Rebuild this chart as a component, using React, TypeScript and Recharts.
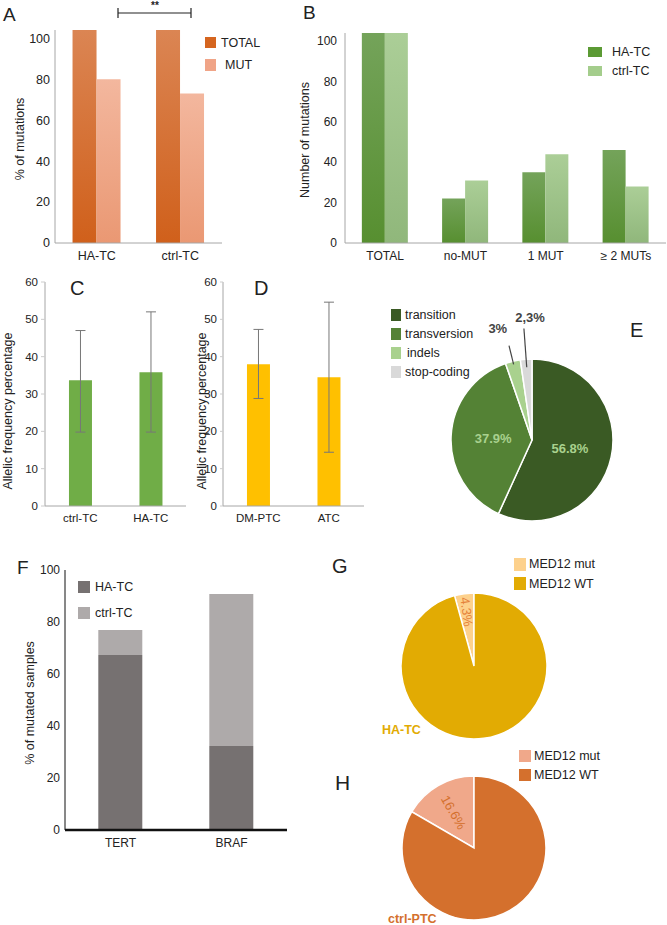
import React from "react";
import { BarChart, Bar, XAxis, YAxis, PieChart, Pie, Cell, ErrorBar } from "recharts";

// A - % of mutations
const aGroups = ["HA-TC", "ctrl-TC"];
const aTotal = [104, 104];
const aMut = [80, 73];

// B - number of mutations
const bGroups = ["TOTAL", "no-MUT", "1 MUT", "≥ 2 MUTs"];
const bHA = [104, 22, 35, 46];
const bCtrl = [104, 31, 44, 28];
const abTicks = [0, 20, 40, 60, 80, 100];

// C / D - allelic frequency (mean, lower, upper)
const cGroups = ["ctrl-TC", "HA-TC"];
const cMean = [33.7, 35.8];
const cLow = [19.8, 19.8];
const cHigh = [47, 52];
const dGroups = ["DM-PTC", "ATC"];
const dMean = [38, 34.5];
const dLow = [28.8, 14.4];
const dHigh = [47.3, 54.6];
const cdTicks = [0, 10, 20, 30, 40, 50, 60];

// E - mutation types
const eTypes = ["transition", "transversion", "indels", "stop-coding"];
const eShare = [56.8, 37.9, 3, 2.3];
const eLabels = ["56.8%", "37.9%", "3%", "2,3%"];

// F - mutated samples
const fGenes = ["TERT", "BRAF"];
const fHA = [67.3, 32.3];
const fCtrl = [9.6, 58.5];
const fTicks = [0, 20, 40, 60, 80, 100];

// G / H - MED12
const medKinds = ["MED12 mut", "MED12 WT"];
const gShare = [4.3, 95.7];
const hShare = [16.6, 83.4];

const eColors = ["#3a5a24", "#548235", "#a9d18e", "#d9d9d9"];
const gColors = ["#fdd18c", "#e2ab03"];
const hColors = ["#f0a88a", "#d4702d"];

const aData = aGroups.map((name, i) => ({ name, total: aTotal[i], mut: aMut[i] }));
const bData = bGroups.map((name, i) => ({ name, ha: bHA[i], ctrl: bCtrl[i] }));
const cData = cGroups.map((name, i) => ({ name, v: cMean[i], err: [cMean[i] - cLow[i], cHigh[i] - cMean[i]] }));
const dData = dGroups.map((name, i) => ({ name, v: dMean[i], err: [dMean[i] - dLow[i], dHigh[i] - dMean[i]] }));
const eData = eTypes.map((name, i) => ({ name, value: eShare[i] }));
const fData = fGenes.map((name, i) => ({ name, ha: fHA[i], ctrl: fCtrl[i] }));
const gData = medKinds.map((name, i) => ({ name, value: gShare[i] }));
const hData = medKinds.map((name, i) => ({ name, value: hShare[i] }));

const RAD = Math.PI / 180;
const polar = (cx: number, cy: number, r: number, a: number) => [cx + r * Math.cos(-a * RAD), cy + r * Math.sin(-a * RAD)];

const txt = "#222";
const grayAxis = "#a6a6a6";

type TP = {
  x: number;
  y: number;
  size?: number;
  color?: string;
  weight?: number;
  align?: "left" | "center" | "right";
  rotate?: number;
  children: React.ReactNode;
};

const T = ({ x, y, size = 12.5, color = txt, weight = 400, align = "left", rotate = 0, children }: TP) => {
  const tx = align === "left" ? "0" : align === "center" ? "-50%" : "-100%";
  return (
    <div
      style={{
        position: "absolute",
        left: x,
        top: y,
        fontSize: size,
        color,
        fontWeight: weight,
        whiteSpace: "nowrap",
        lineHeight: 1,
        transform: `translate(${tx},-50%) rotate(${rotate}deg)`,
      }}
    >
      {children}
    </div>
  );
};

const Sq = ({ x, y, w = 12, h = 12, color }: { x: number; y: number; w?: number; h?: number; color: string }) => (
  <div style={{ position: "absolute", left: x, top: y, width: w, height: h, background: color }} />
);

const Pos = ({ x, y, children }: { x: number; y: number; children: React.ReactNode }) => (
  <div style={{ position: "absolute", left: x, top: y }}>{children}</div>
);

const renderE = (p: any) => {
  const { cx, cy, midAngle, outerRadius, index } = p;
  if (index < 2) {
    const [x, y] = polar(cx, cy, outerRadius * 0.48, midAngle);
    return (
      <text x={x} y={y} fill="#a9d18e" fontSize={13} fontWeight={600} textAnchor="middle" dominantBaseline="central">
        {eLabels[index]}
      </text>
    );
  }
  const r1 = index === 2 ? 0.96 : 0.9;
  const r2 = index === 2 ? 1.2 : 1.38;
  const rt = index === 2 ? 1.42 : 1.52;
  const dx = index === 2 ? -7 : 7;
  const [x1, y1] = polar(cx, cy, outerRadius * r1, midAngle);
  const [x2, y2] = polar(cx, cy, outerRadius * r2, midAngle);
  const [x3, y3] = polar(cx, cy, outerRadius * rt, midAngle);
  return (
    <g>
      <line x1={x1} y1={y1} x2={x2} y2={y2} stroke="#444" strokeWidth={1.2} />
      <text x={x3 + dx} y={y3} fill="#444" fontSize={13} fontWeight={700} textAnchor="middle" dominantBaseline="central">
        {eLabels[index]}
      </text>
    </g>
  );
};

const medLabel = (rf: number, color: string, share: number[]) => (p: any) => {
  if (p.index !== 0) return <g />;
  const [x, y] = polar(p.cx, p.cy, p.outerRadius * rf, p.midAngle);
  return (
    <text
      x={x}
      y={y}
      fill={color}
      fontSize={13}
      textAnchor="middle"
      dominantBaseline="central"
      transform={`rotate(${180 - p.midAngle} ${x} ${y})`}
    >
      {`${share[0]}%`}
    </text>
  );
};

const tick = (size: number) => ({ fill: txt, fontSize: size });

export default function App() {
  return (
    <div
      style={{
        position: "absolute",
        left: 0,
        top: 0,
        width: 667,
        height: 925,
        background: "#fff",
        overflow: "hidden",
        fontFamily: "'Liberation Sans', Arial, Helvetica, sans-serif",
      }}
    >
      {/* A */}
      <Pos x={0} y={0}>
        <BarChart width={240} height={270} data={aData} margin={{ top: 30, right: 18, bottom: 0, left: 0 }} barCategoryGap="21%" barGap={0}>
          <defs>
            <linearGradient id="aTot" x1="0" y1="0" x2="0" y2="1">
              <stop offset="0%" stopColor="#db8553" />
              <stop offset="100%" stopColor="#d0601b" />
            </linearGradient>
            <linearGradient id="aMut" x1="0" y1="0" x2="0" y2="1">
              <stop offset="0%" stopColor="#f3b79e" />
              <stop offset="100%" stopColor="#ea9873" />
            </linearGradient>
          </defs>
          <XAxis dataKey="name" stroke={grayAxis} tickLine={false} tick={tick(12.5)} height={27} />
          <YAxis domain={[0, 104]} ticks={abTicks} width={55} stroke={grayAxis} tickLine={false} tickSize={3} tickMargin={2} tick={tick(12.5)} />
          <Bar dataKey="total" fill="url(#aTot)" isAnimationActive={false} />
          <Bar dataKey="mut" fill="url(#aMut)" isAnimationActive={false} />
        </BarChart>
      </Pos>
      <svg style={{ position: "absolute", left: 0, top: 0 }} width={240} height={30}>
        <line x1={118} y1={13} x2={191} y2={13} stroke="#222" strokeWidth={1.2} />
        <line x1={118} y1={8} x2={118} y2={18} stroke="#222" strokeWidth={1.2} />
        <line x1={191} y1={8} x2={191} y2={18} stroke="#222" strokeWidth={1.2} />
      </svg>
      <T x={155} y={6} size={10} weight={700} align="center">**</T>
      <T x={3} y={14} size={19}>A</T>
      <T x={20} y={139} align="center" rotate={-90}>% of mutations</T>
      <Sq x={205} y={37} w={11} h={11} color="#d5651f" />
      <T x={221} y={43}>TOTAL</T>
      <Sq x={205} y={59} w={11} h={12} color="#f0a487" />
      <T x={225} y={65}>MUT</T>

      {/* B */}
      <Pos x={290} y={0}>
        <BarChart width={377} height={270} data={bData} margin={{ top: 33, right: 1, bottom: 0, left: 0 }} barCategoryGap="21%" barGap={0}>
          <defs>
            <linearGradient id="bHa" x1="0" y1="0" x2="0" y2="1">
              <stop offset="0%" stopColor="#74a35a" />
              <stop offset="100%" stopColor="#578f30" />
            </linearGradient>
            <linearGradient id="bCt" x1="0" y1="0" x2="0" y2="1">
              <stop offset="0%" stopColor="#abce97" />
              <stop offset="100%" stopColor="#90b77b" />
            </linearGradient>
          </defs>
          <XAxis dataKey="name" stroke={grayAxis} tickLine={false} tick={tick(12)} height={27} />
          <YAxis domain={[0, 104]} ticks={abTicks} width={55} stroke={grayAxis} tickLine={false} tick={tick(12)} />
          <Bar dataKey="ha" fill="url(#bHa)" isAnimationActive={false} />
          <Bar dataKey="ctrl" fill="url(#bCt)" isAnimationActive={false} />
        </BarChart>
      </Pos>
      <T x={303} y={12} size={19}>B</T>
      <T x={305} y={140} align="center" rotate={-90}>Number of mutations</T>
      <Sq x={588} y={47} w={14} h={10} color="#5b9a34" />
      <T x={612} y={52}>HA-TC</T>
      <Sq x={588} y={66} w={14} h={10} color="#a4cd8c" />
      <T x={612} y={71}>ctrl-TC</T>

      {/* C */}
      <Pos x={0} y={260}>
        <BarChart width={186} height={270} data={cData} margin={{ top: 22, right: 0, bottom: 0, left: 0 }} barCategoryGap="34%">
          <XAxis dataKey="name" stroke={grayAxis} tickLine={false} tick={tick(11.5)} height={24} />
          <YAxis domain={[0, 60]} ticks={cdTicks} width={45} stroke={grayAxis} tickLine={{ stroke: "#ccc" }} tickSize={4} tickMargin={3} tick={tick(11.5)} />
          <Bar dataKey="v" fill="#70ad47" isAnimationActive={false}>
            <ErrorBar dataKey="err" width={5} stroke="#777" strokeWidth={1} direction="y" />
          </Bar>
        </BarChart>
      </Pos>
      <T x={70} y={288} size={20}>C</T>
      <T x={8} y={411} align="center" rotate={-90}>Allelic frequency percentage</T>

      {/* D */}
      <Pos x={180} y={260}>
        <BarChart width={184} height={270} data={dData} margin={{ top: 22, right: 0, bottom: 0, left: 0 }} barCategoryGap="34%">
          <XAxis dataKey="name" stroke={grayAxis} tickLine={false} tick={tick(11.5)} height={24} />
          <YAxis domain={[0, 60]} ticks={cdTicks} width={43} stroke={grayAxis} tickLine={{ stroke: "#ccc" }} tickSize={3} tickMargin={3} tick={tick(11.5)} />
          <Bar dataKey="v" fill="#ffc000" isAnimationActive={false}>
            <ErrorBar dataKey="err" width={5} stroke="#777" strokeWidth={1} direction="y" />
          </Bar>
        </BarChart>
      </Pos>
      <T x={254} y={288} size={20}>D</T>
      <T x={202} y={411} align="center" rotate={-90}>Allelic frequency percentage</T>

      {/* E */}
      <Pos x={360} y={260}>
        <PieChart width={307} height={270} margin={{ top: 0, right: 0, bottom: 0, left: 0 }}>
          <Pie
            data={eData}
            dataKey="value"
            cx={172}
            cy={180}
            outerRadius={81}
            startAngle={90}
            endAngle={-270}
            stroke="#fff"
            strokeWidth={1.5}
            label={renderE}
            labelLine={false}
            isAnimationActive={false}
          >
            {eData.map((d, i) => (
              <Cell key={d.name} fill={eColors[i]} />
            ))}
          </Pie>
        </PieChart>
      </Pos>
      <T x={630} y={330} size={20}>E</T>
      {eTypes.map((t, i) => (
        <React.Fragment key={t}>
          <Sq x={391} y={309 + i * 19} w={10} h={12} color={eColors[i]} />
          <T x={i === 2 ? 407 : 405} y={315 + i * 19}>{t}</T>
        </React.Fragment>
      ))}

      {/* F */}
      <Pos x={0} y={540}>
        <BarChart width={290} height={315} data={fData} margin={{ top: 30, right: 3, bottom: 0, left: 0 }} barCategoryGap="30%">
          <XAxis dataKey="name" axisLine={{ stroke: "#111", strokeWidth: 2.5 }} tickLine={false} tick={tick(12)} height={25} />
          <YAxis domain={[0, 100]} ticks={fTicks} width={65} axisLine={{ stroke: "#111" }} tickLine={false} tickSize={3} tickMargin={2} tick={tick(12)} />
          <Bar dataKey="ha" stackId="s" fill="#767171" isAnimationActive={false} />
          <Bar dataKey="ctrl" stackId="s" fill="#aeaaaa" isAnimationActive={false} />
        </BarChart>
      </Pos>
      <T x={17} y={567} size={19}>F</T>
      <T x={30} y={703} align="center" rotate={-90}>% of mutated samples</T>
      <Sq x={78} y={581} color="#767171" />
      <T x={95} y={587}>HA-TC</T>
      <Sq x={78} y={607} color="#aeaaaa" />
      <T x={95} y={613}>ctrl-TC</T>

      {/* G */}
      <Pos x={330} y={540}>
        <PieChart width={337} height={210} margin={{ top: 0, right: 0, bottom: 0, left: 0 }}>
          <Pie
            data={gData}
            dataKey="value"
            cx={144}
            cy={126}
            outerRadius={73}
            startAngle={90}
            endAngle={450}
            stroke="#fff"
            strokeWidth={1.5}
            label={medLabel(0.75, "#e5813a", gShare)}
            labelLine={false}
            isAnimationActive={false}
          >
            {gData.map((d, i) => (
              <Cell key={d.name} fill={gColors[i]} />
            ))}
          </Pie>
        </PieChart>
      </Pos>
      <T x={332} y={566} size={20}>G</T>
      <Sq x={514} y={558} w={12} h={13} color={gColors[0]} />
      <T x={529} y={564}>{medKinds[0]}</T>
      <Sq x={514} y={577} w={12} h={13} color={gColors[1]} />
      <T x={529} y={584}>{medKinds[1]}</T>
      <T x={382} y={730} weight={700} color="#e2ab03">HA-TC</T>

      {/* H */}
      <Pos x={330} y={740}>
        <PieChart width={337} height={185} margin={{ top: 0, right: 0, bottom: 0, left: 0 }}>
          <Pie
            data={hData}
            dataKey="value"
            cx={144}
            cy={108}
            outerRadius={72}
            startAngle={90}
            endAngle={450}
            stroke="#fff"
            strokeWidth={1.5}
            label={medLabel(0.57, "#d4702d", hShare)}
            labelLine={false}
            isAnimationActive={false}
          >
            {hData.map((d, i) => (
              <Cell key={d.name} fill={hColors[i]} />
            ))}
          </Pie>
        </PieChart>
      </Pos>
      <T x={335} y={782} size={21}>H</T>
      <Sq x={519} y={750} w={12} h={12} color={hColors[0]} />
      <T x={534} y={756}>{medKinds[0]}</T>
      <Sq x={519} y={769} w={12} h={12} color={hColors[1]} />
      <T x={534} y={775}>{medKinds[1]}</T>
      <T x={388} y={919} weight={700} color="#d4702d">ctrl-PTC</T>
    </div>
  );
}
